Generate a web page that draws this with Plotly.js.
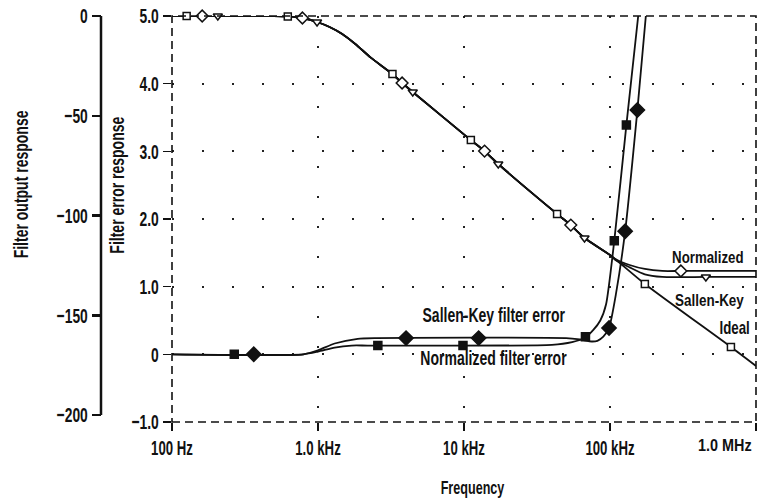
<!DOCTYPE html>
<html><head><meta charset="utf-8">
<script src="https://cdn.plot.ly/plotly-3.0.1.min.js"></script>
<style>html,body{margin:0;padding:0;background:#fff}#chart{width:765px;height:500px}</style>
</head><body><div id="chart"></div>
<script>
// ---------------- data ----------------
// Filter output response (dB), common roll-off part of the three filters
const sharedFreq = [100, 500, 621, 782, 985, 1200, 1465, 1800, 2312, 3236, 3767, 4457, 11140, 13830, 17170, 43400, 53900, 66900, 100000];
const sharedDb   = [0, 0, -0.2, -1.0, -3.0, -5.5, -9.0, -14.0, -21.0, -29.1, -33.6, -38.1, -62.2, -67.7, -74.2, -99.2, -104.8, -111.3, -119.8];
// tails above 100 kHz
const idealTailFreq = [173300, 673400, 1000000];
const idealTailDb   = [-134.3, -165.9, -175.4];
const normTailFreq  = [108900, 136300, 173300, 228000, 305700, 1000000];
const normTailDb    = [-121.8, -124.8, -126.8, -127.8, -127.8, -127.8];
const skTailFreq    = [108900, 136300, 173300, 228000, 453600, 1000000];
const skTailDb      = [-122.3, -126.0, -129.5, -130.8, -130.8, -130.8];
// output markers
const idealMarkFreq = [126, 621, 3236, 11140, 43400, 173300, 673400];
const idealMarkDb   = [0, -0.2, -29.1, -62.2, -99.2, -134.3, -165.9];
const normMarkFreq  = [161, 782, 3767, 13830, 53900, 305700];
const normMarkDb    = [0, -1.0, -33.6, -67.7, -104.8, -127.8];
const skMarkFreq    = [206, 985, 4457, 17170, 66900, 453600];
const skMarkDb      = [0, -3.0, -38.1, -74.2, -111.3, -130.8];
// Filter error response
const normErrFreq = [100, 794, 1000, 1300, 1700, 2200, 40000, 55000, 67000, 76900, 85800, 94000, 107000, 129500, 156000];
const normErrVal  = [0, 0, 0.04, 0.10, 0.13, 0.13, 0.14, 0.18, 0.24, 0.36, 0.50, 0.74, 1.68, 3.39, 5.0];
const skErrFreq   = [100, 794, 1000, 1300, 1870, 2500, 50000, 62000, 75000, 82000, 90000, 98500, 110000, 127000, 154000, 176000];
const skErrVal    = [0, 0, 0.06, 0.16, 0.23, 0.24, 0.24, 0.22, 0.19, 0.20, 0.26, 0.39, 0.90, 1.82, 3.61, 5.0];
const normErrMarkFreq = [267, 2570, 9840, 67900, 107000, 129500];
const normErrMarkVal  = [0, 0.13, 0.13, 0.26, 1.68, 3.39];
const skErrMarkFreq   = [363, 4010, 12600, 98500, 127000, 154000];
const skErrMarkVal    = [0, 0.24, 0.24, 0.39, 1.82, 3.61];
// ticks
const xTickVals = [100, 1000, 10000, 100000, 1000000];
const xTickText = ['100 Hz', '1.0 kHz', '10 kHz', '100 kHz', ''];
const xLastTickText = '1.0 MHz';
const yErrTickVals = [-1, 0, 1, 2, 3, 4, 5];
const yErrTickText = ['\u22121.0', '0', '1.0', '2.0', '3.0', '4.0', '5.0'];
const yOutTickVals = [0, -50, -100, -150, -200];
const yOutTickText = ['0', '\u221250', '\u2212100', '\u2212150', '\u2212200'];

// ---------------- chart ----------------
const FAMILY = '"Liberation Sans", Arial, sans-serif';
const TICK_CONDENSE = 0.66;
const INK = '#111';
const W = 765, H = 500, ML = 5, MR = 9, MT = 16, MB = 78;
const PW = W - ML - MR, PH = H - MT - MB;
const px = v => (v - ML) / PW;          // pixel x -> paper x
const py = v => (H - MB - v) / PH;      // pixel y -> paper y
const F = size => ({family: FAMILY, size: size, color: INK, weight: 700});

function line(x, y, yaxis) {
  return {x, y, yaxis, type: 'scatter', mode: 'lines', hoverinfo: 'skip',
    line: {color: INK, width: 1.8, shape: 'spline', smoothing: 0.6}};
}
function marks(x, y, yaxis, symbol, size, fill) {
  return {x, y, yaxis, type: 'scatter', mode: 'markers', cliponaxis: false, hoverinfo: 'skip',
    marker: {symbol, size, color: fill, line: {color: INK, width: 1.5}}};
}
// [text, centre x px, centre y px, font size, angle, horizontal condense factor]
const labelSpecs = [
  ['Filter output response', 21, 185, 20, -90, 0.70],
  ['Filter error response', 117, 185, 20, -90, 0.70],
  ['Frequency', 472, 488, 18, 0, 0.70],
  [xLastTickText, 725, 445, 16, 0, 0.90],
  ['Sallen-Key filter error', 494, 315, 20, 0, 0.70],
  ['Normalized filter error', 493, 358, 20, 0, 0.70],
  ['Normalized', 708, 257, 17, 0, 0.78],
  ['Sallen-Key', 709, 300, 17, 0, 0.79],
  ['Ideal', 734, 327, 19, 0, 0.70]
];

const traces = [
  line(sharedFreq.concat(idealTailFreq), sharedDb.concat(idealTailDb), 'y2'),
  line(sharedFreq.concat(normTailFreq), sharedDb.concat(normTailDb), 'y2'),
  line(sharedFreq.concat(skTailFreq), sharedDb.concat(skTailDb), 'y2'),
  line(normErrFreq, normErrVal, 'y'),
  line(skErrFreq, skErrVal, 'y'),
  marks(idealMarkFreq, idealMarkDb, 'y2', 'square', 7, '#fff'),
  marks(normMarkFreq, normMarkDb, 'y2', 'diamond', 9, '#fff'),
  marks(skMarkFreq, skMarkDb, 'y2', 'triangle-down', 8, '#fff'),
  marks(normErrMarkFreq, normErrMarkVal, 'y', 'square', 8, INK),
  marks(skErrMarkFreq, skErrMarkVal, 'y', 'diamond', 11, INK)
];

const layout = {
  width: W, height: H,
  margin: {l: ML, r: MR, t: MT, b: MB},
  paper_bgcolor: '#fff', plot_bgcolor: '#fff',
  showlegend: false,
  font: F(19),
  xaxis: {type: 'log', range: [2, 6], domain: [px(172), 1],
    tickvals: xTickVals, ticktext: xTickText, tickfont: F(20),
    ticks: 'outside', ticklen: 8, tickwidth: 1.5, tickcolor: INK,
    showline: false, zeroline: false,
    showgrid: true, gridcolor: '#222', gridwidth: 2, griddash: '2px,28px'},
  yaxis: {range: [-1, 5], tickvals: yErrTickVals, ticktext: yErrTickText, tickfont: F(21),
    ticks: 'outside', ticklen: 8, tickwidth: 1.5, tickcolor: INK,
    showline: false, zeroline: false,
    showgrid: true, gridcolor: '#222', gridwidth: 2, griddash: '2px,28px'},
  yaxis2: {overlaying: 'y', side: 'left', anchor: 'free', position: px(101),
    range: [-203.5, 0], tickvals: yOutTickVals, ticktext: yOutTickText, tickfont: F(21),
    ticks: 'outside', ticklen: 9, tickwidth: 2.5, tickcolor: INK,
    showline: false, zeroline: false, showgrid: false},
  shapes: [
    {type: 'rect', xref: 'x domain', yref: 'y domain', x0: 0, x1: 1, y0: 0, y1: 1,
      line: {color: INK, width: 1.6, dash: '8px,5px'}, layer: 'above'},
    {type: 'line', xref: 'paper', yref: 'y2', x0: px(101), x1: px(101), y0: 0, y1: -200,
      line: {color: INK, width: 2.5}}
  ],
  annotations: labelSpecs.map(s => ({text: s[0], xref: 'paper', yref: 'paper',
    x: px(s[1]), y: py(s[2]), xanchor: 'center', yanchor: 'middle',
    textangle: s[4], showarrow: false, font: F(s[3])}))
};

Plotly.newPlot('chart', traces, layout, {staticPlot: true, displayModeBar: false}).then(gd => {
  // condense the glyphs horizontally (Helvetica Condensed look), keeping real text
  const condense = (el, k) => {
    const len = el.getComputedTextLength();
    if (len > 0) {
      el.setAttribute('textLength', (len * k).toFixed(1));
      el.setAttribute('lengthAdjust', 'spacingAndGlyphs');
    }
    return len;
  };
  gd.querySelectorAll('.xtick text, .ytick text, .y2tick text').forEach(el => condense(el, TICK_CONDENSE));
  gd.querySelectorAll('.annotation').forEach(g => {
    const i = parseInt(g.getAttribute('data-index'), 10);
    const k = labelSpecs[i] ? labelSpecs[i][5] : 0.7;
    const t = g.querySelector('.annotation-text');
    const bg = g.querySelector('rect.bg');
    if (!t) return;
    const len = condense(t, k);
    if (bg && len > 0) {
      const w = parseFloat(bg.getAttribute('width'));
      const x = parseFloat(bg.getAttribute('x')) || 0;
      const nw = w - len * (1 - k);
      bg.setAttribute('width', nw.toFixed(1));
      bg.setAttribute('x', (x + (w - nw) / 2).toFixed(1));
    }
  });
});
</script>
</body></html>
